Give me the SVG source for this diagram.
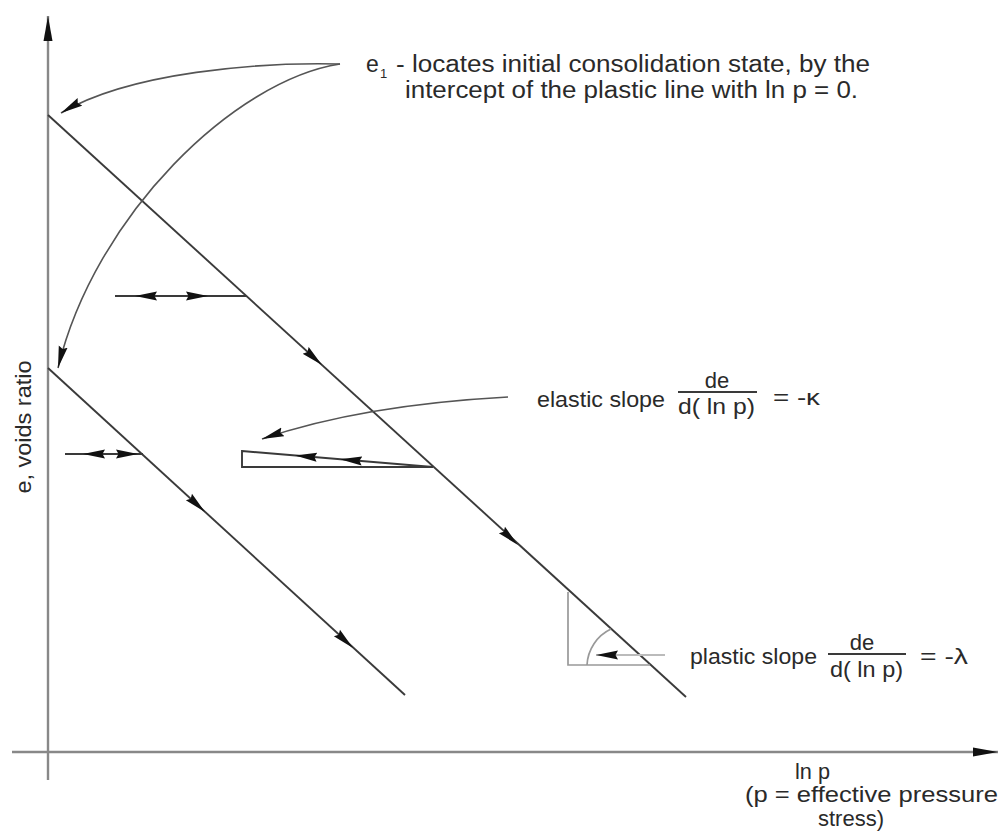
<svg xmlns="http://www.w3.org/2000/svg" width="1000" height="839" viewBox="0 0 1000 839">
<style>
text{font-family:"Liberation Sans",Arial,sans-serif;font-size:22px;fill:#2a2a2a}
.big{font-size:23px}
.ln{stroke:#3a3a3a;stroke-width:1.9;fill:none}
.ax{stroke:#888;stroke-width:2.4;fill:none}
.gr{stroke:#999;stroke-width:1.7;fill:none}
.lg{stroke:#bbb;stroke-width:2;fill:none}
.cv{stroke:#555;stroke-width:1.6;fill:none;marker-end:url(#ah)}
.mk{stroke:none;fill:none;marker-end:url(#ah)}
</style>
<defs>
<marker id="ah" markerUnits="userSpaceOnUse" markerWidth="24" markerHeight="12" refX="22" refY="5" orient="auto"><path d="M0,0.5 L22,5 L0,9.5 L2.5,5 z" fill="#111"/></marker>
<marker id="axh" markerUnits="userSpaceOnUse" markerWidth="26" markerHeight="12" refX="25" refY="5" orient="auto"><path d="M0,0.5 L25,5 L0,9.5 z" fill="#111"/></marker>
</defs>
<rect width="1000" height="839" fill="#fff"/>
<g id="axes">
<path class="ax" d="M48,780 L48,16" marker-end="url(#axh)"/>
<path class="ax" d="M12,752 L998,752" marker-end="url(#axh)"/>
</g>
<g id="connectors">
<path class="ln" d="M48,115 L686,697"/>
<path class="ln" d="M48,368 L405,695"/>
<path class="ln" d="M115,296 L246,296"/>
<path class="ln" d="M65,454 L143,454"/>
<path class="ln" d="M242,451 L433,467 L242,467 Z"/>
<path class="mk" d="M162,296 L135,296"/>
<path class="mk" d="M185,296 L208,296"/>
<path class="mk" d="M107,454 L83,454"/>
<path class="mk" d="M115,454 L138,454"/>
<path class="mk" d="M312,456.9 L295,455.4"/>
<path class="mk" d="M357,460.6 L340,459.2"/>
<path class="mk" d="M307,351.5 L322,365"/>
<path class="mk" d="M503,531 L518,545"/>
<path class="mk" d="M190,498 L205,512"/>
<path class="mk" d="M338,634 L353,648"/>
<path class="cv" d="M340,64 C260,62 130,72 61,113"/>
<path class="cv" d="M340,64 C235,80 95,215 58,368"/>
<path class="cv" d="M508,397 Q361,405 262,439"/>
<path class="gr" d="M568,592 L568,665 L650,665"/>
<path class="gr" d="M587,665 A42,42 0 0 1 611,629"/>
<path class="lg" d="M665,655 L596,655" marker-end="url(#ah)"/>
</g>
<g id="label-e1">
<text class="big" x="366" y="72">e</text>
<text x="380" y="78" style="font-size:13px">1</text>
<text class="big" x="396" y="72" textLength="474" lengthAdjust="spacingAndGlyphs">- locates initial consolidation state, by the</text>
<text class="big" x="405" y="98" textLength="453" lengthAdjust="spacingAndGlyphs">intercept of the plastic line with  ln p = 0.</text>
</g>
<g id="label-elastic">
<text x="537" y="407" textLength="128" lengthAdjust="spacingAndGlyphs">elastic slope</text>
<text x="717" y="388" text-anchor="middle">de</text>
<path class="ln" d="M678,392 L757,392"/>
<text x="678" y="414" textLength="77" lengthAdjust="spacingAndGlyphs">d( ln p)</text>
<text x="773" y="405" textLength="47" lengthAdjust="spacingAndGlyphs">=  -κ</text>
</g>
<g id="label-plastic">
<text x="690" y="664" textLength="127" lengthAdjust="spacingAndGlyphs">plastic slope</text>
<text x="862" y="650" text-anchor="middle">de</text>
<path class="ln" d="M828,654 L906,654"/>
<text x="830" y="677" textLength="73" lengthAdjust="spacingAndGlyphs">d( ln p)</text>
<text x="920" y="664" textLength="48" lengthAdjust="spacingAndGlyphs">=  -λ</text>
</g>
<g id="label-y">
<text transform="translate(31,427) rotate(-90)" text-anchor="middle" textLength="133" lengthAdjust="spacingAndGlyphs">e, voids ratio</text>
</g>
<g id="label-x">
<text x="795" y="779" textLength="35" lengthAdjust="spacingAndGlyphs">ln p</text>
<text x="745" y="802" textLength="253" lengthAdjust="spacingAndGlyphs">(p = effective pressure</text>
<text x="851" y="826" text-anchor="middle">stress)</text>
</g>
</svg>
